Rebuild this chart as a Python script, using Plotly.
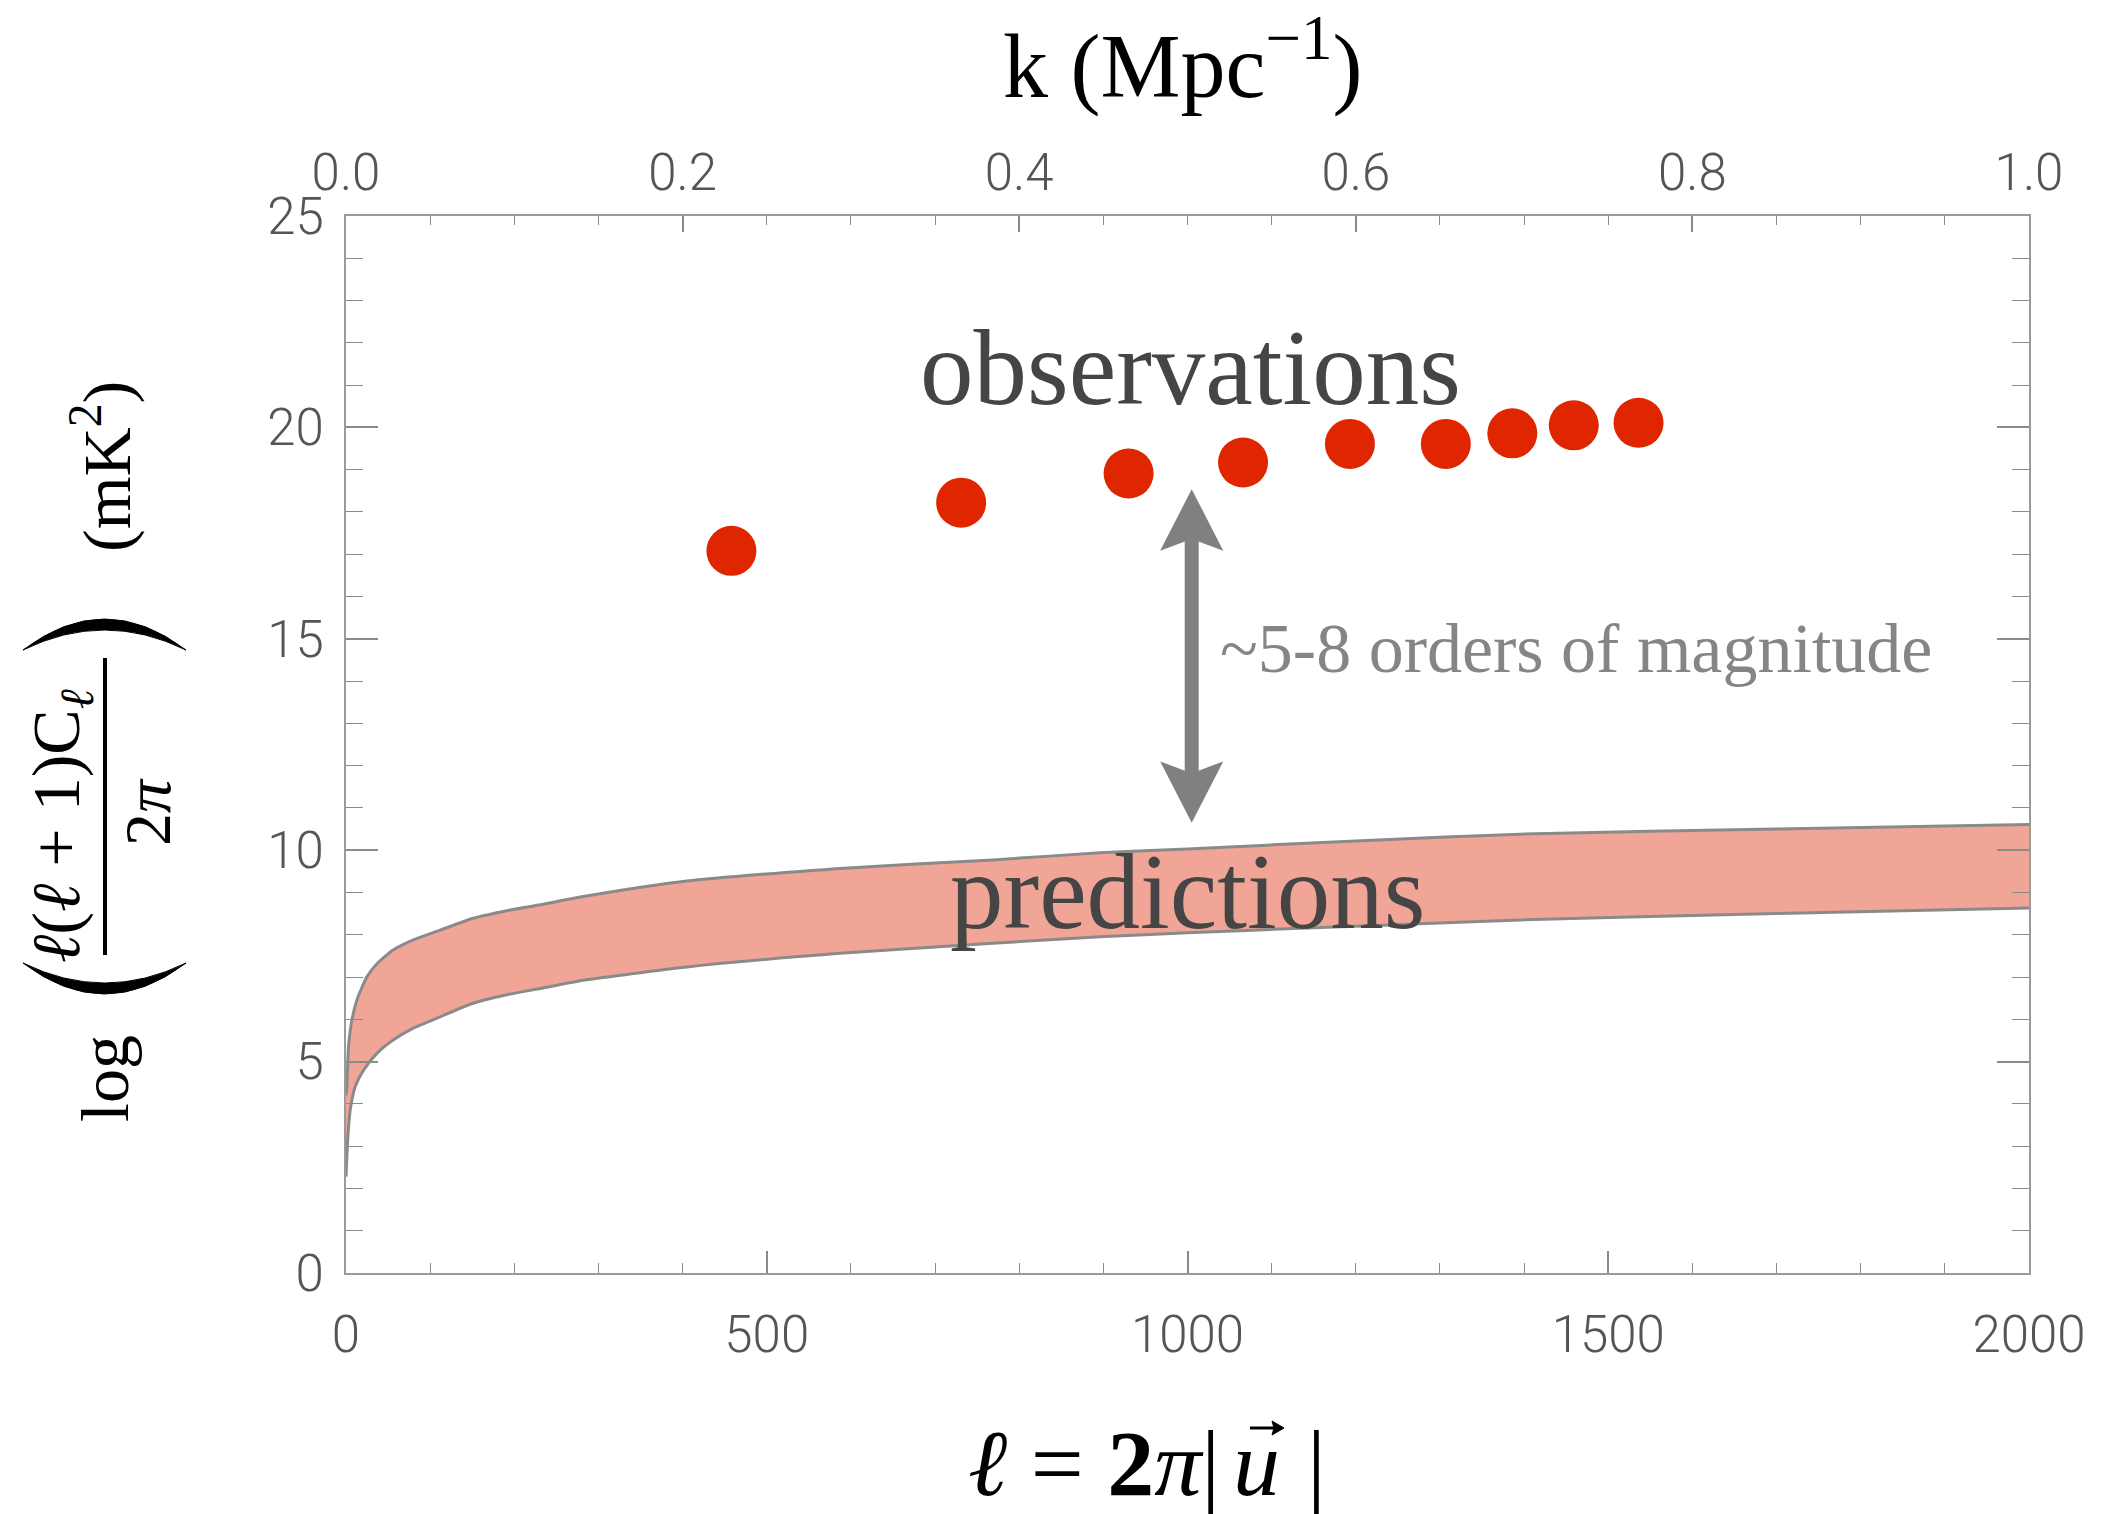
import plotly.graph_objects as go

# ---------------- data ----------------
obs_ell = [458, 731, 930, 1066, 1193, 1307, 1386, 1459, 1536]
obs_val = [17.08, 18.22, 18.91, 19.17, 19.61, 19.61, 19.86, 20.05, 20.11]

band_upper_ell = [0, 1, 3, 7, 13, 25, 37, 56, 80, 112, 151, 191, 231, 284, 405, 587, 769, 896, 1000, 1200, 1395, 1700, 2000]
band_upper_val = [4.2, 4.41, 5.35, 5.98, 6.46, 7.01, 7.32, 7.64, 7.88, 8.11, 8.39, 8.57, 8.71, 8.91, 9.27, 9.57, 9.77, 9.94, 10.03, 10.22, 10.38, 10.50, 10.61]
band_lower_ell = [0, 2, 5, 11, 21, 37, 56, 80, 112, 151, 191, 231, 284, 405, 587, 769, 896, 1000, 1200, 1395, 1700, 2000]
band_lower_val = [2.28, 3.15, 3.86, 4.41, 4.80, 5.20, 5.51, 5.79, 6.06, 6.38, 6.58, 6.73, 6.93, 7.24, 7.56, 7.80, 7.95, 8.05, 8.20, 8.35, 8.50, 8.63]

x_range = [0, 2000]
y_range = [0, 25]
k_range = [0, 1]

# arrow annotation (data units)
arrow_ell = 1005
arrow_top, arrow_top_base = 18.54, 17.08
arrow_bot, arrow_bot_base = 10.65, 12.10
arrow_half_w = 37.5

# ---------------- layout geometry ----------------
W, H = 2104, 1514
L, R, T, B = 346, 2029, 216, 1273


def fx(p):
    return (p - L) / (R - L)


def fy(p):
    return (B - p) / (B - T)


SERIF = "Liberation Serif"
TICKFONT = dict(family="Roboto", size=51, color="#555555", weight=300)
AX_COL = "#9a9a9a"
TICK_COL = "#8a8a8a"
SPL = dict(shape="spline", smoothing=0.6)

fig = go.Figure()

# predictions band: lower edge, then upper edge filled down to it
fig.add_trace(go.Scatter(x=band_lower_ell, y=band_lower_val, mode="lines",
                         line=dict(color="#8a8a8a", width=3, **SPL),
                         hoverinfo="skip", showlegend=False))
fig.add_trace(go.Scatter(x=band_upper_ell, y=band_upper_val, mode="lines",
                         fill="tonexty", fillcolor="#F1A597",
                         line=dict(color="#8a8a8a", width=3, **SPL),
                         hoverinfo="skip", showlegend=False))

# observations
fig.add_trace(go.Scatter(x=obs_ell, y=obs_val, mode="markers",
                         marker=dict(size=50, color="#E02600", line=dict(width=0)),
                         showlegend=False))

# invisible trace binding the top k axis
fig.add_trace(go.Scatter(x=k_range, y=[None, None], xaxis="x2", mode="lines",
                         hoverinfo="skip", showlegend=False))

shapes = []
# double arrow
shapes.append(dict(type="line", xref="x", yref="y", x0=arrow_ell, x1=arrow_ell,
                   y0=arrow_bot_base - 0.3, y1=arrow_top_base + 0.3,
                   line=dict(color="#808080", width=14)))
shapes.append(dict(type="path", xref="x", yref="y",
                   path=f"M {arrow_ell},{arrow_top} L {arrow_ell + arrow_half_w},{arrow_top_base} "
                        f"L {arrow_ell},{arrow_top_base + 0.28} L {arrow_ell - arrow_half_w},{arrow_top_base} Z",
                   fillcolor="#808080", line=dict(width=0)))
shapes.append(dict(type="path", xref="x", yref="y",
                   path=f"M {arrow_ell},{arrow_bot} L {arrow_ell + arrow_half_w},{arrow_bot_base} "
                        f"L {arrow_ell},{arrow_bot_base - 0.28} L {arrow_ell - arrow_half_w},{arrow_bot_base} Z",
                   fillcolor="#808080", line=dict(width=0)))

# y-title: fraction bar and big parentheses
shapes.append(dict(type="line", xref="paper", yref="paper", x0=fx(105), x1=fx(105),
                   y0=fy(658), y1=fy(955), line=dict(color="black", width=4)))


def crescent(x0, x1, ytip, yout, yin):
    xm = (x0 + x1) / 2
    co = 2 * yout - ytip
    ci = 2 * yin - ytip
    return (f"M {fx(x0)},{fy(ytip)} Q {fx(xm)},{fy(co)} {fx(x1)},{fy(ytip)} "
            f"Q {fx(xm)},{fy(ci)} {fx(x0)},{fy(ytip)} Z")


shapes.append(dict(type="path", xref="paper", yref="paper",
                   path=crescent(23, 186, 963, 994, 983), fillcolor="black", line=dict(color="black", width=1)))
shapes.append(dict(type="path", xref="paper", yref="paper",
                   path=crescent(23, 186, 650, 619, 630), fillcolor="black", line=dict(color="black", width=1)))

# vector arrow over the u of the bottom title
shapes.append(dict(type="line", xref="paper", yref="paper", x0=fx(1250), x1=fx(1276),
                   y0=fy(1428), y1=fy(1428), line=dict(color="black", width=3)))
shapes.append(dict(type="path", xref="paper", yref="paper",
                   path=f"M {fx(1284)},{fy(1428)} L {fx(1272)},{fy(1421)} L {fx(1274)},{fy(1428)} "
                        f"L {fx(1272)},{fy(1435)} Z",
                   fillcolor="black", line=dict(color="black", width=1)))


def ptext(text, x, y, size, angle=0, anchor="center", color="black"):
    return dict(text=text, x=fx(x), y=fy(y), xref="paper", yref="paper", showarrow=False,
                xanchor=anchor, yanchor="middle", textangle=angle,
                font=dict(family=SERIF, size=size, color=color))


annotations = [
    dict(text="observations", x=1004, y=21.4, xref="x", yref="y", showarrow=False,
         xanchor="center", yanchor="middle",
         font=dict(family=SERIF, size=107, color="#454545")),
    dict(text="predictions", x=1000, y=9.0, xref="x", yref="y", showarrow=False,
         xanchor="center", yanchor="middle",
         font=dict(family=SERIF, size=107, color="#454545")),
    dict(text="~5-8 orders of magnitude", x=1036, y=14.76, xref="x", yref="y", showarrow=False,
         xanchor="left", yanchor="middle", font=dict(family=SERIF, size=70, color="#858585")),
    # top title
    ptext("k (Mpc<sup>−1</sup>)", 1182, 60, 90),
    # bottom title, split so the vector arrow can sit over the u
    ptext("<i>ℓ</i> = <b>2</b><i>π</i>|", 1222, 1463, 94, anchor="right"),
    ptext("<i>u</i>", 1256, 1463, 94),
    ptext("|", 1316, 1463, 94),
    # y title pieces
    ptext("log", 105, 1078, 68, angle=-90),
    ptext("<i>ℓ</i>(<i>ℓ</i> + 1)C<sub><i>ℓ</i></sub>", 60, 826, 68, angle=-90),
    ptext("2<i>π</i>", 147, 812, 66, angle=-90),
    ptext("(mK<sup>2</sup>)", 102, 467, 68, angle=-90),
]

fig.update_layout(
    width=W, height=H,
    margin=dict(l=L, r=W - R, t=T, b=H - B, pad=0),
    paper_bgcolor="white", plot_bgcolor="white",
    showlegend=False,
    shapes=shapes,
    annotations=annotations,
    xaxis=dict(range=x_range, dtick=500, tick0=0, showgrid=False, zeroline=False,
               showline=True, linecolor=AX_COL, linewidth=2, mirror=True,
               ticks="inside", ticklen=22, tickwidth=1.5, tickcolor=TICK_COL,
               minor=dict(dtick=100, ticks="inside", ticklen=10, tickwidth=1.2, tickcolor=TICK_COL, showgrid=False),
               tickfont=TICKFONT, ticklabelstandoff=16),
    xaxis2=dict(range=k_range, overlaying="x", side="top", anchor="y", dtick=0.2, tick0=0,
                tickformat=".1f", showgrid=False, zeroline=False, showline=True,
                linecolor=AX_COL, linewidth=2,
                ticks="inside", ticklen=16, tickwidth=1.5, tickcolor=TICK_COL,
                minor=dict(dtick=0.05, ticks="inside", ticklen=9, tickwidth=1.2, tickcolor=TICK_COL, showgrid=False),
                tickfont=TICKFONT, ticklabelstandoff=4),
    yaxis=dict(range=y_range, dtick=5, tick0=0, showgrid=False, zeroline=False,
               showline=True, linecolor=AX_COL, linewidth=2, mirror="ticks",
               ticks="inside", ticklen=32, tickwidth=1.5, tickcolor=TICK_COL,
               minor=dict(dtick=1, ticks="inside", ticklen=17, tickwidth=1.2, tickcolor=TICK_COL, showgrid=False),
               tickfont=TICKFONT, ticklabelstandoff=10),
)

fig.write_html("out.html", config={"displayModeBar": False},
               post_script="document.body.style.margin='0';")
